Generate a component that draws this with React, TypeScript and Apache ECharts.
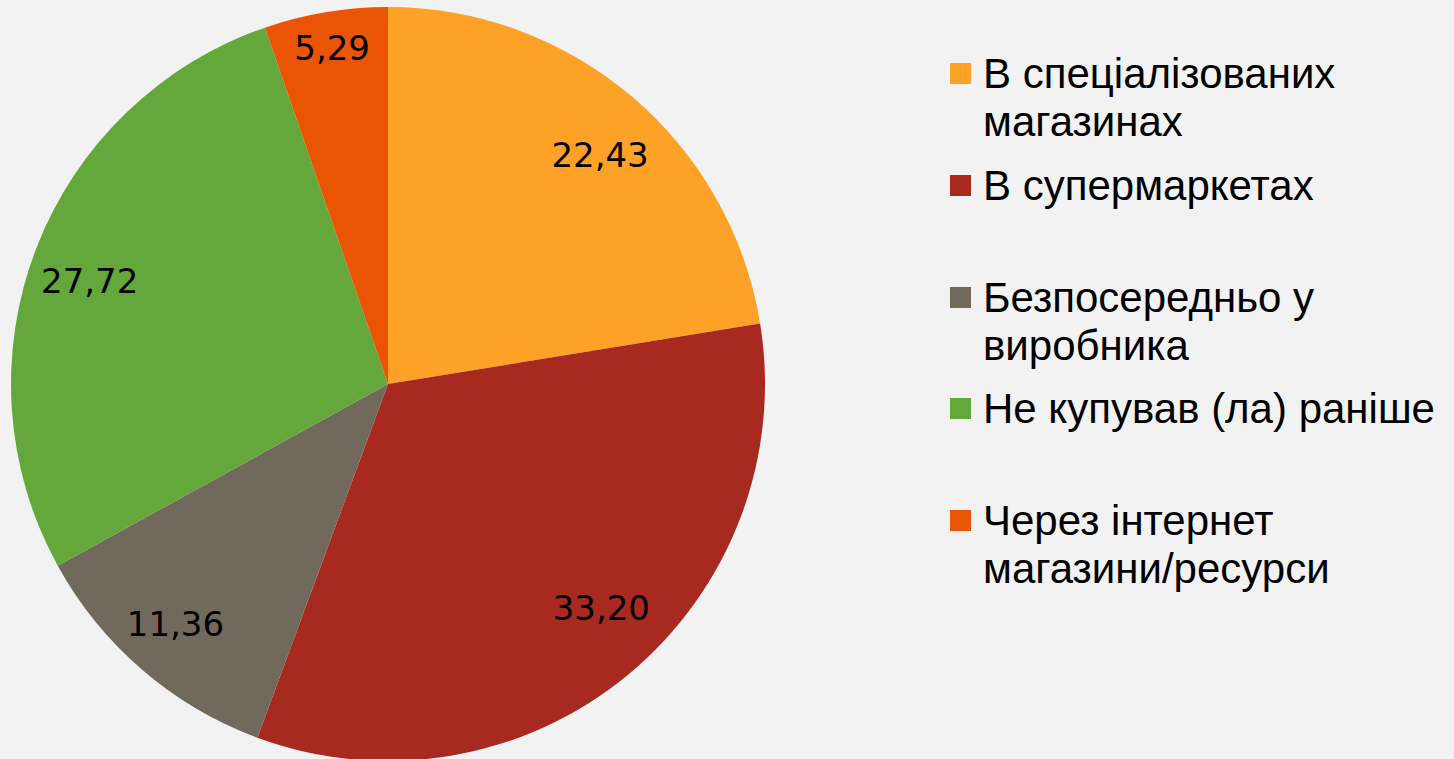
import React, { useEffect, useRef } from "react";
import * as echarts from "echarts";

const categories = [
  "В спеціалізованих\nмагазинах",
  "В супермаркетах",
  "Безпосередньо у\nвиробника",
  "Не купував (ла) раніше",
  "Через інтернет\nмагазини/ресурси",
];
const values = [22.43, 33.2, 11.36, 27.72, 5.29];
const colors = ["#FEA127", "#A8291F", "#71695B", "#64A83C", "#E95504"];
const legendIconTops = [63, 175, 287, 398, 510];
const labelNudges = [
  [5, 15],
  [10, -23],
  [-4, -2],
  [0, 12],
  [-3, -21],
];

export default function App() {
  const ref = useRef<HTMLDivElement>(null);
  useEffect(() => {
    document.body.style.margin = "0";
    const chart = echarts.init(ref.current!, null, { renderer: "svg" });
    const R = 377;
    const LH = 48;
    const FS = 42;
    const data = categories.map((name, i) => ({
      name,
      value: values[i],
      itemStyle: { color: colors[i] },
    }));
    chart.setOption({
      animation: false,
      backgroundColor: "#f2f2f2",
      legend: categories.map((name, i) => {
        const lines = name.split("\n").length;
        const h = 21 + (lines - 1) * LH;
        return {
          data: [name],
          orient: "vertical",
          left: 950,
          top: legendIconTops[i] - LH / 2 + 10.5,
          icon: `path://M0,0H21V21H0ZM28,${h}H28.001V${h - 0.001}Z`,
          itemWidth: 28,
          itemHeight: h,
          selectedMode: false,
          padding: 0,
          formatter: (n: string) =>
            n
              .split("\n")
              .map((l) => `{a|${l}}`)
              .join("\n"),
          textStyle: {
            fontFamily: "Liberation Sans",
            fontSize: FS,
            color: "#000",
            lineHeight: LH,
            rich: {
              a: {
                fontFamily: "Liberation Sans",
                fontSize: FS,
                lineHeight: LH,
                color: "#000",
              },
            },
          },
        };
      }),
      series: [
        {
          type: "pie",
          center: [388, 384],
          radius: [0, R],
          startAngle: 90,
          clockwise: true,
          data,
          label: { show: false },
          labelLine: { show: false },
          silent: true,
        },
        {
          type: "pie",
          center: [388, 384],
          radius: [R * 0.68, R],
          startAngle: 90,
          clockwise: true,
          data: categories.map((name, i) => ({ name, value: values[i] })),
          itemStyle: { color: "rgba(0,0,0,0)" },
          label: {
            show: true,
            position: "inside",
            fontFamily: "DejaVu Sans",
            fontSize: 34,
            color: "#000",
            formatter: (p: any) => p.value.toFixed(2).replace(".", ","),
          },
          labelLayout: (p: any) => ({
            dx: labelNudges[p.dataIndex][0],
            dy: labelNudges[p.dataIndex][1],
          }),
          labelLine: { show: false },
          silent: true,
        },
      ],
    });
    return () => chart.dispose();
  }, []);
  return <div ref={ref} style={{ width: 1454, height: 759 }} />;
}
